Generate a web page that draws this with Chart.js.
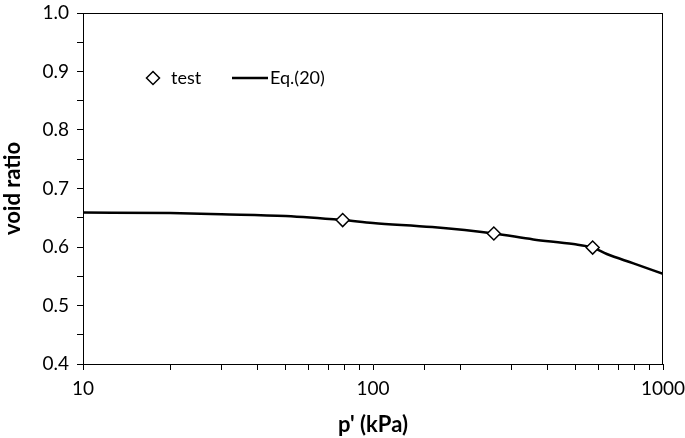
<!DOCTYPE html>
<html>
<head>
<meta charset="utf-8">
<script src="https://cdn.jsdelivr.net/npm/chart.js@4/dist/chart.umd.min.js"></script>
<style>
  html, body { margin:0; padding:0; background:#fff; }
  #wrap { width:685px; height:438px; }
</style>
</head>
<body>
<div id="wrap"><canvas id="c" width="685" height="438"></canvas></div>
<script>
// test points
const testP = [78.6, 261, 572];
const testE = [0.646, 0.623, 0.599];

// Eq.(20) curve
const eqP = [10, 20, 30, 50, 78.6, 100, 160, 261, 357, 491, 572, 640, 791, 1000];
const eqE = [0.659, 0.658, 0.656, 0.653, 0.646, 0.641, 0.634, 0.623, 0.613, 0.605, 0.599, 0.588, 0.572, 0.554];

const xLabels = [10, 100, 1000];
const FONT = 'Lato, "Open Sans", sans-serif';

const frame = {
  id:'frame',
  afterDraw(chart){
    const a = chart.chartArea, ctx = chart.ctx;
    ctx.save();
    ctx.strokeStyle = '#000'; ctx.lineWidth = 1;
    ctx.beginPath();
    ctx.moveTo(a.left, a.top + 0.5); ctx.lineTo(a.right, a.top + 0.5);
    ctx.moveTo(a.right - 0.5, a.top); ctx.lineTo(a.right - 0.5, a.bottom);
    ctx.stroke();

    // legend inside plot
    const ly = a.top + 65;
    const lx = a.left + 70;
    ctx.lineWidth = 1.5;
    ctx.fillStyle = '#fff';
    ctx.beginPath();
    ctx.moveTo(lx, ly - 6.5); ctx.lineTo(lx + 6.5, ly); ctx.lineTo(lx, ly + 6.5); ctx.lineTo(lx - 6.5, ly); ctx.closePath();
    ctx.fill(); ctx.stroke();
    ctx.fillStyle = '#000';
    ctx.font = '18px ' + FONT;
    ctx.textBaseline = 'middle';
    ctx.fillText('test', lx + 18, ly);
    ctx.lineWidth = 2.5;
    ctx.beginPath(); ctx.moveTo(lx + 79, ly); ctx.lineTo(lx + 115, ly); ctx.stroke();
    ctx.fillText('Eq.(20)', lx + 117, ly);
    ctx.restore();
  }
};

new Chart(document.getElementById('c'), {
  type:'scatter',
  data:{
    datasets:[
      { label:'Eq.(20)', data: eqP.map((p,i)=>({x:p, y:eqE[i]})), showLine:true,
        borderColor:'#000', borderWidth:2.5, pointRadius:0, cubicInterpolationMode:'monotone', order:2 },
      { label:'test', data: testP.map((p,i)=>({x:p, y:testE[i]})), showLine:false,
        pointStyle:'rectRot', pointRadius:6.5, pointHoverRadius:6.5, pointBackgroundColor:'#fff',
        pointBorderColor:'#000', pointBorderWidth:1.5, order:1 }
    ]
  },
  options:{
    responsive:false, animation:false,
    layout:{ padding:{ left:0, right:22, top:13, bottom:0 } },
    plugins:{ legend:{display:false}, tooltip:{enabled:false} },
    scales:{
      x:{
        type:'logarithmic', min:10, max:1000,
        border:{ display:true, color:'#000', width:1 },
        grid:{ drawOnChartArea:false, drawTicks:true, tickLength:6, color:'#000' },
        ticks:{ autoSkip:false, maxRotation:0, color:'#000', padding:7,
          font:{ family:FONT, size:19 },
          callback:(v)=> xLabels.includes(Math.round(v)) ? String(Math.round(v)) : '' },
        title:{ display:true, text:"p' (kPa)", color:'#000', padding:{top:6, bottom:0},
          font:{ family:FONT, size:22, weight:'bold' } },
        afterFit:(s)=>{ s.height = 74; s.paddingLeft = 0; s.paddingRight = 0; }
      },
      y:{
        min:0.4, max:1.0,
        border:{ display:true, color:'#000', width:1 },
        grid:{ drawOnChartArea:false, drawTicks:true, tickLength:6, color:'#000' },
        ticks:{ stepSize:0.05, autoSkip:false, color:'#000', padding:8,
          font:{ family:FONT, size:19 },
          callback:(v)=>{ const r = Math.round(v*100); return r % 10 === 0 ? (r/100).toFixed(1) : ''; } },
        title:{ display:true, text:'void ratio', color:'#000', padding:{top:0, bottom:6},
          font:{ family:FONT, size:22, weight:'bold' } },
        afterFit:(s)=>{ s.width = 83; s.paddingTop = 0; s.paddingBottom = 0; }
      }
    }
  },
  plugins:[frame]
});
</script>
</body>
</html>
